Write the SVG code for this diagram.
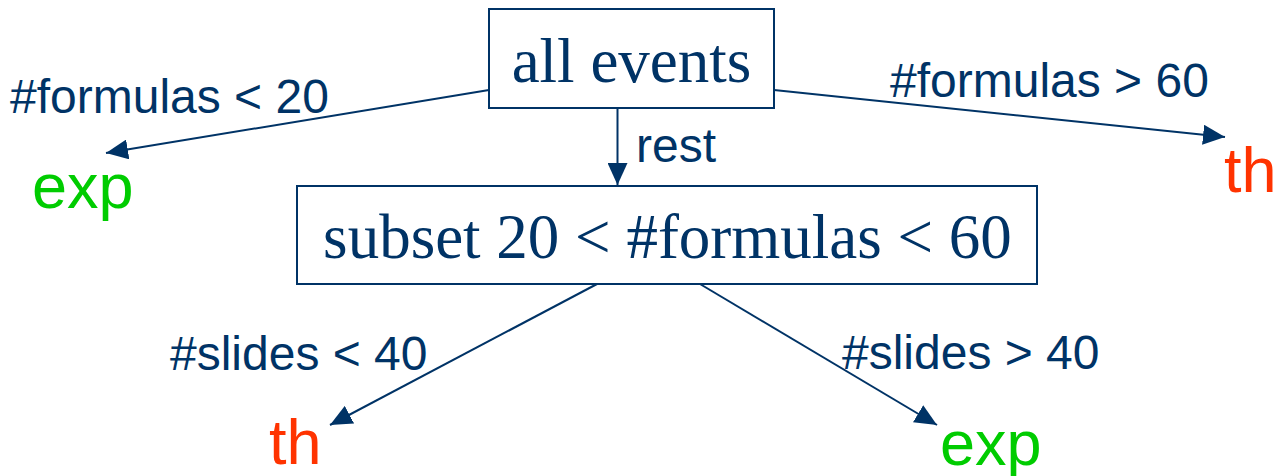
<svg xmlns="http://www.w3.org/2000/svg" width="1278" height="476" viewBox="0 0 1278 476">
  <style>
    .box { fill: #ffffff; stroke: #003366; stroke-width: 2; }
    .title { font-family: "Liberation Serif", "Times New Roman", serif; font-size: 63px; fill: #003366; text-anchor: middle; }
    .edge { stroke: #003366; stroke-width: 2; fill: none; marker-end: url(#arrow); }
    .label { font-family: "Liberation Sans", Arial, sans-serif; font-size: 48px; fill: #003366; }
    .leaf { font-family: "Liberation Sans", Arial, sans-serif; font-size: 63px; }
    .exp { fill: #00cc00; }
    .th { fill: #ff3300; }
  </style>
  <defs>
    <marker id="arrow" viewBox="0 0 22 20" refX="22" refY="10" markerWidth="22" markerHeight="20" markerUnits="userSpaceOnUse" orient="auto">
      <path d="M0,0 L22,10 L0,20 z" fill="#003366"/>
    </marker>
  </defs>
  <rect width="1278" height="476" fill="#ffffff"/>

  <!-- connectors -->
  <g id="connectors">
    <line class="edge" x1="489" y1="90" x2="106" y2="153"/>
    <line class="edge" x1="774" y1="90" x2="1225" y2="137"/>
    <line class="edge" x1="617.5" y1="108" x2="617.5" y2="185"/>
    <line class="edge" x1="597" y1="284" x2="330" y2="425"/>
    <line class="edge" x1="700" y1="284" x2="937" y2="425"/>
    <text class="label" x="10" y="113">#formulas &lt; 20</text>
    <text class="label" x="890" y="97">#formulas &gt; 60</text>
    <text class="label" x="636" y="162">rest</text>
    <text class="label" x="170" y="370">#slides &lt; 40</text>
    <text class="label" x="842" y="369">#slides &gt; 40</text>
  </g>

  <!-- root node -->
  <g id="all-events">
    <rect class="box" x="489" y="9" width="285" height="99"/>
    <text class="title" x="631.5" y="82">all events</text>
  </g>

  <!-- middle node -->
  <g id="subset">
    <rect class="box" x="297" y="186" width="740" height="98"/>
    <text class="title" x="667.5" y="258">subset 20 &lt; #formulas &lt; 60</text>
  </g>

  <!-- leaves -->
  <g id="leaf-exp-top">
    <text class="leaf exp" x="32" y="208">exp</text>
  </g>
  <g id="leaf-th-top">
    <text class="leaf th" x="1224" y="192">th</text>
  </g>
  <g id="leaf-th-bottom">
    <text class="leaf th" x="269" y="464">th</text>
  </g>
  <g id="leaf-exp-bottom">
    <text class="leaf exp" x="940" y="465">exp</text>
  </g>
</svg>
